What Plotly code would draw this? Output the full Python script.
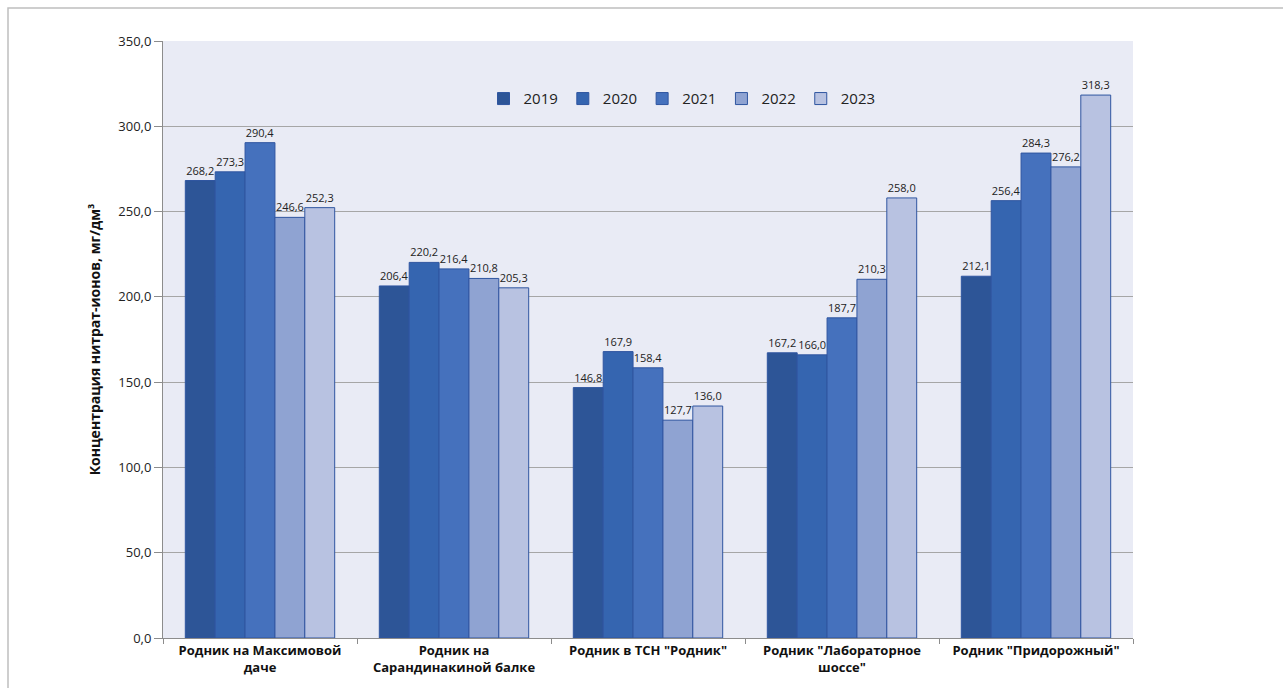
import plotly.graph_objects as go

categories = [
    "Родник на Максимовой<br>даче",
    "Родник на<br>Сарандинакиной балке",
    "Родник в ТСН \"Родник\"",
    "Родник \"Лабораторное<br>шоссе\"",
    "Родник \"Придорожный\"",
]
years = ["2019", "2020", "2021", "2022", "2023"]
values_2019 = [268.2, 206.4, 146.8, 167.2, 212.1]
values_2020 = [273.3, 220.2, 167.9, 166.0, 256.4]
values_2021 = [290.4, 216.4, 158.4, 187.7, 284.3]
values_2022 = [246.6, 210.8, 127.7, 210.3, 276.2]
values_2023 = [252.3, 205.3, 136.0, 258.0, 318.3]
y_ticks = [0, 50, 100, 150, 200, 250, 300, 350]

series = [values_2019, values_2020, values_2021, values_2022, values_2023]
colors = ["#2D5597", "#3565B0", "#4571BD", "#8FA3D2", "#B8C2E1"]

W, H = 1283, 688
L, R, T, B = 163, 1133, 41, 640

fig = go.Figure()
for yr, vals, col in zip(years, series, colors):
    fig.add_trace(go.Bar(
        name=yr,
        x=categories,
        y=vals,
        marker=dict(color=col, line=dict(color="#2F55A0", width=1)),
        text=[f"{v:.1f}".replace(".", ",") for v in vals],
        textposition="outside",
        textfont=dict(size=11, color="#222222", family="Open Sans"),
        cliponaxis=False,
    ))

def px_x(p):
    return (p - L) / (R - L)

def px_y(p):
    return (B - p) / (B - T)

fig.update_layout(
    width=W, height=H,
    margin=dict(l=L, r=W - R, t=T, b=H - B),
    paper_bgcolor="white",
    plot_bgcolor="#E9EBF5",
    barmode="group",
    bargap=0.23,
    bargroupgap=0,
    separators=",.",
    font=dict(family="Open Sans", color="#222222"),
    showlegend=True,
    legend=dict(
        orientation="h",
        x=px_x(682), xanchor="center",
        y=px_y(99), yanchor="middle",
        bgcolor="rgba(0,0,0,0)",
        font=dict(size=15, family="Open Sans", color="#222222"),
        itemwidth=30,
        traceorder="normal",
    ),
    xaxis=dict(
        showline=True, linecolor="#8C8C8C", linewidth=1,
        ticks="outside", tickson="boundaries", ticklen=5, tickcolor="#8C8C8C",
        tickfont=dict(size=13, family="Open Sans", color="#111111", weight="bold"),
        showgrid=False,
    ),
    yaxis=dict(
        range=[0, 350],
        tickvals=y_ticks,
        tickformat=".1f",
        showline=True, linecolor="#8C8C8C", linewidth=1,
        ticks="outside", ticklen=8, tickcolor="#8C8C8C",
        tickfont=dict(size=13, family="Open Sans", color="#222222"),
        showgrid=True, gridcolor="#A6A6A6", gridwidth=1,
        zeroline=False,
        title=dict(
            text="Концентрация нитрат-ионов, мг/дм³",
            font=dict(size=14, family="Open Sans", color="#111111", weight="bold"),
            standoff=14,
        ),
    ),
    shapes=[dict(
        type="rect", xref="paper", yref="paper",
        x0=px_x(8), x1=px_x(1290), y0=px_y(700), y1=px_y(8),
        line=dict(color="#BFBFBF", width=1.5), fillcolor="rgba(0,0,0,0)",
        layer="below",
    )],
)

fig.write_html("out.html")
